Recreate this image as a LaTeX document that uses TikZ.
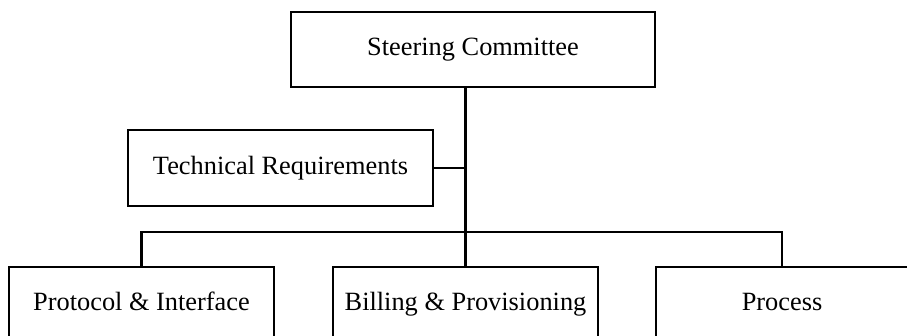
\documentclass[tikz,border=0pt]{standalone}
\usepackage{fontspec}
\setmainfont{Liberation Serif}
\usepackage{tikz}
\tikzset{>=stealth}
\tikzset{unit/.style={draw, line width=1.2pt, inner sep=0pt, minimum height=1.5cm,
        text height=2ex, text depth=.5ex, font=\fontsize{15}{18}\selectfont}}

\begin{document}
\begin{tikzpicture}[line width=1.2pt]
        \useasboundingbox (0,0) rectangle (18.14,6.7);
        % Boxes
        \node[unit, minimum width=7.28cm] (steer) at (9.46,5.71) {Steering Committee};
        \node[unit, minimum width=6.1cm, minimum height=1.52cm] (tech) at (5.61,3.34) {Technical Requirements};
        \node[unit, minimum width=5.3cm] (proto) at (2.83,0.61) {Protocol \& Interface};
        \node[unit, minimum width=5.3cm] (bill) at (9.31,0.61) {Billing \& Provisioning};
        \node[unit, minimum width=5.04cm] (proc) at (15.64,0.61) {Process};
        \coordinate (split) at (9.31,2.06);

        % Lines
        \draw (bill.north |- steer.south) -- (bill.north);
        \draw (tech.east) -- (tech.east -| bill.north);
        \draw (proto.north) |- (split) -| (proc.north);
      \end{tikzpicture}
\end{document}
